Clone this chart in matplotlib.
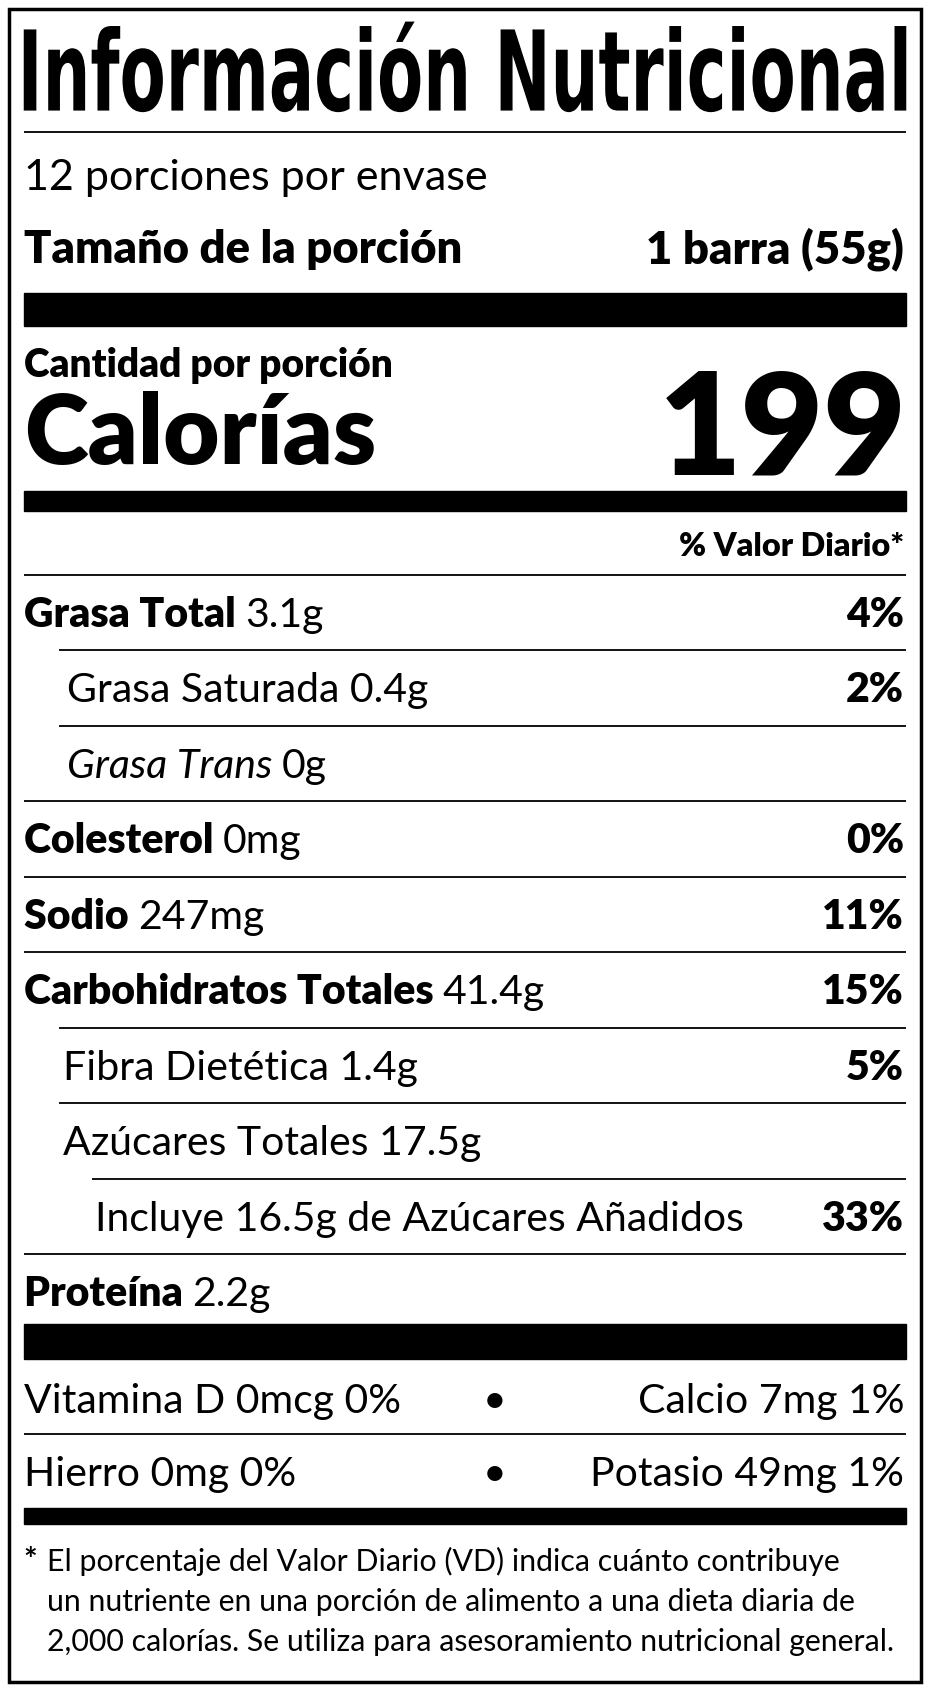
import matplotlib
matplotlib.use("Agg")
import matplotlib.pyplot as plt
from matplotlib.patches import Rectangle, PathPatch
from matplotlib.textpath import TextPath
from matplotlib.font_manager import FontProperties
from matplotlib.transforms import Affine2D

names = ["Grasa Total", "Grasa Saturada", "Grasa Trans", "Colesterol", "Sodio",
         "Carbohidratos Totales", "Fibra Dietética", "Azúcares Totales",
         "Incluye 16.5g de Azúcares Añadidos", "Proteína"]
amounts = ["3.1g", "0.4g", "0g", "0mg", "247mg", "41.4g", "1.4g", "17.5g", "", "2.2g"]
pcts = ["4%", "2%", "", "0%", "11%", "15%", "5%", "", "33%", ""]
indent = [0, 1, 1, 0, 0, 0, 1, 1, 2, 0]
vit_left = ["Vitamina D 0mcg 0%", "Hierro 0mg 0%"]
vit_right = ["Calcio 7mg 1%", "Potasio 49mg 1%"]
calories = "199"
servings = "12 porciones por envase"
serving_size = "1 barra (55g)"
footnote = ["El porcentaje del Valor Diario (VD) indica cuánto contribuye",
            "un nutriente en una porción de alimento a una dieta diaria de",
            "2,000 calorías. Se utiliza para asesoramiento nutricional general."]

W, H = 862, 1568
fig = plt.figure(figsize=(9.3, 16.91), dpi=100)
ax = fig.add_axes([0, 0, 1, 1])
ax.set_xlim(0, W); ax.set_ylim(H, 0); ax.axis("off")
S = 930 / W * 0.72
def fs(em): return em * S
F = ["Lato", "DejaVu Sans"]

def T(x, y, s, em, ha="left", bold=False, italic=False):
    ax.text(x, y, s, fontsize=fs(em), ha=ha, va="baseline",
            fontweight="heavy" if bold else "normal",
            fontstyle="italic" if italic else "normal", family=F)

def line(y, x0=22, x1=840, lw=1.3):
    ax.plot([x0, x1], [y, y], color="black", lw=lw, solid_capstyle="butt")

def bar(y0, y1, x0=22, x1=840):
    ax.add_patch(Rectangle((x0, y0), x1 - x0, y1 - y0, color="black"))

ax.add_patch(Rectangle((8, 8), 846, 1552, fill=False, lw=2.5, ec="black"))

# title fitted into its box
tp = TextPath((0, 0), "Información Nutricional",
              prop=FontProperties(family=["Liberation Sans Narrow", "DejaVu Sans"], weight="bold"),
              size=100)
bb = tp.get_extents()
sx = (840 - 22) / bb.width
sy = (104 - 20) / bb.height
tr = Affine2D().translate(-bb.x0, -bb.y0).scale(sx, -sy).translate(22, 104)
ax.add_patch(PathPatch(tr.transform_path(tp), color="black", lw=0))

line(122)
T(22, 176, servings, 40)
T(22, 244, "Tamaño de la porción", 42, bold=True)
T(838, 244, serving_size, 42, ha="right", bold=True)
bar(272, 302)
T(22, 350, "Cantidad por porción", 36, bold=True)
T(22, 430, "Calorías", 90, bold=True)
T(840, 440, calories, 132, ha="right", bold=True)
bar(455, 474)
T(838, 516, "% Valor Diario*", 30, ha="right", bold=True)
line(533)

y = 533
xi = [22, 62, 88]
for i, n in enumerate(names):
    base = y + 48
    x = xi[indent[i]] if i not in (6, 7) else 58
    if indent[i] == 0 or n == "Grasa Trans":
        t = ax.text(x, base, n + " ", fontsize=fs(38), ha="left", va="baseline",
                    fontweight="normal" if n == "Grasa Trans" else "heavy",
                    fontstyle="italic" if n == "Grasa Trans" else "normal", family=F)
        fig.canvas.draw()
        b = t.get_window_extent().transformed(ax.transData.inverted())
        ax.text(b.x1, base, amounts[i], fontsize=fs(38), ha="left", va="baseline", family=F)
    else:
        s = n + (" " + amounts[i] if amounts[i] else "")
        ax.text(x, base, s, fontsize=fs(38), ha="left", va="baseline", family=F)
    if pcts[i]:
        ax.text(838, base, pcts[i], fontsize=fs(38), ha="right", va="baseline",
                fontweight="heavy", family=F)
    y += 70
    if i < len(names) - 1:
        nx = indent[i + 1]
        line(y, x0=[22, 55, 85][nx] if i + 1 not in (6, 7) else 55)

bar(1228, 1260)
for j in range(2):
    b = 1310 + j * 68
    ax.text(22, b, vit_left[j], fontsize=fs(38), ha="left", va="baseline", family=F)
    ax.text(458, b, "•", fontsize=fs(38), ha="center", va="baseline", family=F)
    ax.text(838, b, vit_right[j], fontsize=fs(38), ha="right", va="baseline", family=F)
line(1330)
bar(1398, 1413)
ax.text(22, 1457, "*", fontsize=fs(30), ha="left", va="baseline", fontweight="bold", family=F)
for k, s in enumerate(footnote):
    ax.text(44, 1457 + k * 37, s, fontsize=fs(28), ha="left", va="baseline", family=F)

fig.savefig("out.png", dpi=100, facecolor="white")
